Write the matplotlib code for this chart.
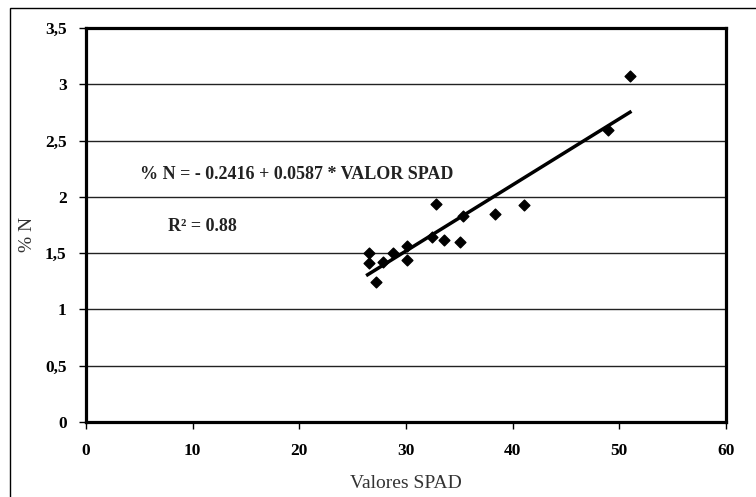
import matplotlib.pyplot as plt
from matplotlib.patches import Rectangle

spad = [26.5, 26.5, 27.2, 27.8, 28.8, 30.1, 30.1, 32.4, 32.8, 33.6,
        35.1, 35.3, 38.3, 41.1, 48.9, 51.0]
n_pct = [1.50, 1.41, 1.24, 1.42, 1.50, 1.56, 1.44, 1.64, 1.94, 1.62,
         1.60, 1.83, 1.85, 1.93, 2.59, 3.07]
intercept = -0.2416
slope = 0.0587
fit_x = [26.4, 51.0]

plt.rcParams['font.family'] = ['Liberation Serif', 'DejaVu Serif']

fig = plt.figure(figsize=(7.56, 4.97), dpi=100)
ax = fig.add_axes([86 / 756, 75 / 497, 640 / 756, 394 / 497])

# outer chart border
fig.patches.append(Rectangle((10 / 756, -0.1), 1.0, 1.1 - 8 / 497,
                             transform=fig.transFigure, fill=False,
                             edgecolor='black', linewidth=1))

ax.set_xlim(0, 60)
ax.set_ylim(0, 3.5)
ax.set_xticks(range(0, 61, 10))
yt = [i * 0.5 for i in range(8)]
ax.set_yticks(yt)
ax.set_yticklabels([('%g' % v).replace('.', ',') for v in yt])
for lab in ax.get_xticklabels() + ax.get_yticklabels():
    lab.set_fontweight('bold')
    lab.set_fontsize(12.5)

ax.grid(axis='y', color='#222222', linewidth=1)
ax.set_axisbelow(True)
for s in ax.spines.values():
    s.set_linewidth(2.3)
ax.tick_params(direction='out', length=5, width=1)
ax.tick_params(axis='x', pad=10)
ax.tick_params(axis='y', pad=9)

ax.scatter(spad, n_pct, marker='D', s=30, color='black', zorder=3)
ax.plot(fit_x, [intercept + slope * x for x in fit_x], color='black',
        linewidth=2.5, zorder=3)

ax.text(5.1, 2.2, '% N = - 0.2416 + 0.0587 * VALOR SPAD', fontsize=13,
        fontweight='bold', color='#222222', va='center')
ax.text(7.7, 1.74, 'R² = 0.88', fontsize=13, fontweight='bold',
        color='#222222', va='center')

ax.set_xlabel('Valores SPAD', fontsize=14, color='#333333', labelpad=12)
ax.set_ylabel('% N', fontsize=14, color='#333333')
ax.yaxis.set_label_coords(-0.078, 0.477)

fig.savefig('out.png', dpi=100)
